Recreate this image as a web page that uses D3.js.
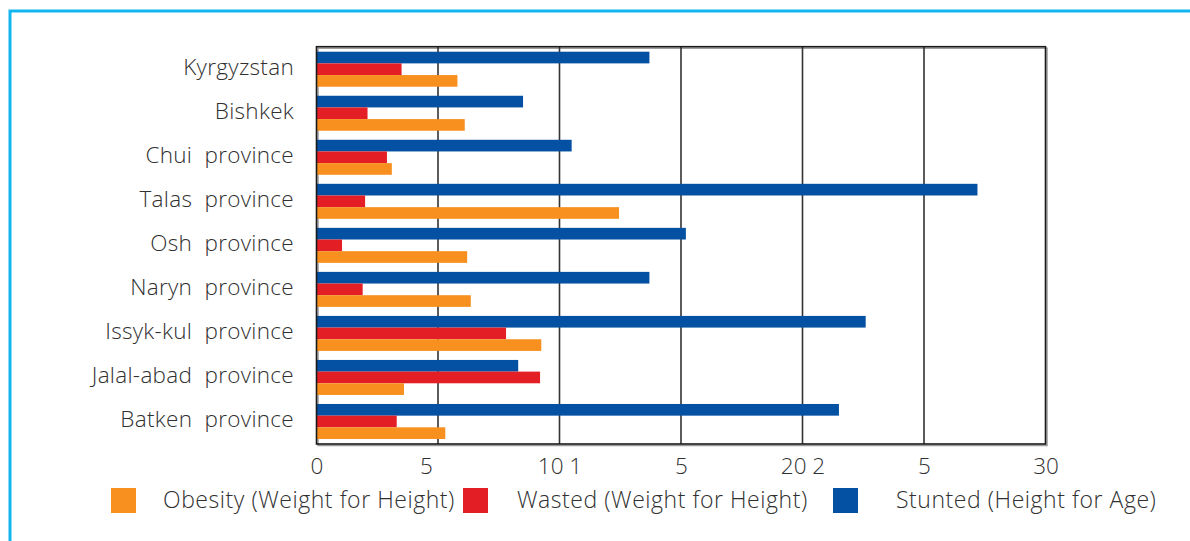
<!DOCTYPE html>
<html>
<head>
<meta charset="utf-8">
<script src="https://cdn.jsdelivr.net/npm/d3@7"></script>
<style>
  html, body { margin: 0; padding: 0; background: #fff; }
  svg { display: block; }
  text { font-family: "Open Sans", "Noto Sans", sans-serif; font-weight: 300; fill: #303030; white-space: pre; }
</style>
</head>
<body>
<svg id="chart" width="1190" height="541"></svg>
<script>
// Regions (top to bottom)
const regions = [
  "Kyrgyzstan", "Bishkek", "Chui  province", "Talas  province", "Osh  province",
  "Naryn  province", "Issyk-kul  province", "Jalal-abad  province", "Batken  province"
];
// Prevalence (%) by indicator
const stunted = [13.7, 8.5, 10.5, 27.2, 15.2, 13.7, 22.6, 8.3, 21.5];
const wasted  = [3.5, 2.1, 2.9, 2.0, 1.05, 1.9, 7.8, 9.2, 3.3];
const obesity = [5.8, 6.1, 3.1, 12.45, 6.2, 6.35, 9.25, 3.6, 5.3];

const seriesNames = ["Stunted (Height for Age)", "Wasted (Weight for Height)", "Obesity (Weight for Height)"];
const legendOrder = ["Obesity (Weight for Height)", "Wasted (Weight for Height)", "Stunted (Height for Age)"];
const tickValues = [0, 5, 10, 15, 20, 25, 30];
const tickLabels = ["0", "5", "10 1", "5", "20 2", "5", "30"];

const colors = {
  "Stunted (Height for Age)": "#0450a2",
  "Wasted (Weight for Height)": "#e31e24",
  "Obesity (Weight for Height)": "#f7901e"
};

const svg = d3.select("#chart");

// outer frame
svg.append("rect")
  .attr("x", 10).attr("y", 11).attr("width", 1200).attr("height", 560)
  .attr("fill", "none").attr("stroke", "#12b5ef").attr("stroke-width", 3);

const plot = { left: 316.5, right: 1045.5, top: 46.7, bottom: 444 };

const x = d3.scaleLinear().domain([0, 30]).range([plot.left, plot.right]);
const y = d3.scaleBand().domain(regions).range([plot.top, plot.bottom])
  .paddingInner(0.205).paddingOuter(0.114);
const ySub = d3.scaleBand().domain(seriesNames).range([0, y.bandwidth()]);

// light shadow behind plot frame
svg.append("rect")
  .attr("x", plot.left + 1.5).attr("y", plot.top + 1.5)
  .attr("width", plot.right - plot.left).attr("height", plot.bottom - plot.top)
  .attr("fill", "none").attr("stroke", "#9a9a9a").attr("stroke-width", 1.5);

// vertical gridlines
svg.append("g").selectAll("line")
  .data(tickValues.slice(1, -1))
  .join("line")
  .attr("x1", d => x(d)).attr("x2", d => x(d))
  .attr("y1", plot.top).attr("y2", plot.bottom)
  .attr("stroke", "#333").attr("stroke-width", 1.6);

// bars
const values = {
  "Stunted (Height for Age)": stunted,
  "Wasted (Weight for Height)": wasted,
  "Obesity (Weight for Height)": obesity
};
const bars = [];
regions.forEach((r, i) => seriesNames.forEach(s => bars.push({ region: r, series: s, value: values[s][i] })));

svg.append("g").selectAll("rect")
  .data(bars)
  .join("rect")
  .attr("x", x(0))
  .attr("y", d => y(d.region) + ySub(d.series))
  .attr("width", d => x(d.value) - x(0))
  .attr("height", ySub.bandwidth())
  .attr("fill", d => colors[d.series]);

// plot frame
svg.append("rect")
  .attr("x", plot.left).attr("y", plot.top)
  .attr("width", plot.right - plot.left).attr("height", plot.bottom - plot.top)
  .attr("fill", "none").attr("stroke", "#1a1a1a").attr("stroke-width", 1.6);

// category labels
svg.append("g").selectAll("text")
  .data(regions)
  .join("text")
  .attr("x", 294)
  .attr("y", d => y(d) + y.bandwidth() / 2 - 2.5)
  .attr("dy", "0.35em")
  .attr("text-anchor", "end")
  .attr("font-size", 22.5)
  .style("letter-spacing", "0.3px")
  .text(d => d);

// x axis labels
const xAxis = d3.axisBottom(x)
  .tickValues(tickValues)
  .tickSize(0)
  .tickPadding(14)
  .tickFormat((d, i) => tickLabels[i]);
const gx = svg.append("g").attr("transform", `translate(0,${plot.bottom})`).call(xAxis);
gx.select(".domain").remove();
gx.selectAll("text")
  .attr("font-size", 22.5)
  .attr("fill", "#303030")
  .style("font-family", "\"Open Sans\", sans-serif")
  .style("font-weight", 300)
  .attr("dx", (d, i) => (i === 1 ? -12 : 0));

// legend
const legendPos = [
  { sx: 111, tx: 163 },
  { sx: 463, tx: 517 },
  { sx: 833, tx: 896 }
];
const lg = svg.append("g").selectAll("g")
  .data(legendOrder)
  .join("g");
lg.append("rect")
  .attr("x", (d, i) => legendPos[i].sx).attr("y", 488)
  .attr("width", 25).attr("height", 25)
  .attr("fill", d => colors[d]);
lg.append("text")
  .attr("x", (d, i) => legendPos[i].tx).attr("y", 500)
  .attr("dy", "0.35em")
  .attr("font-size", 23)
  .style("letter-spacing", "0.55px")
  .text(d => d);
</script>
</body>
</html>
